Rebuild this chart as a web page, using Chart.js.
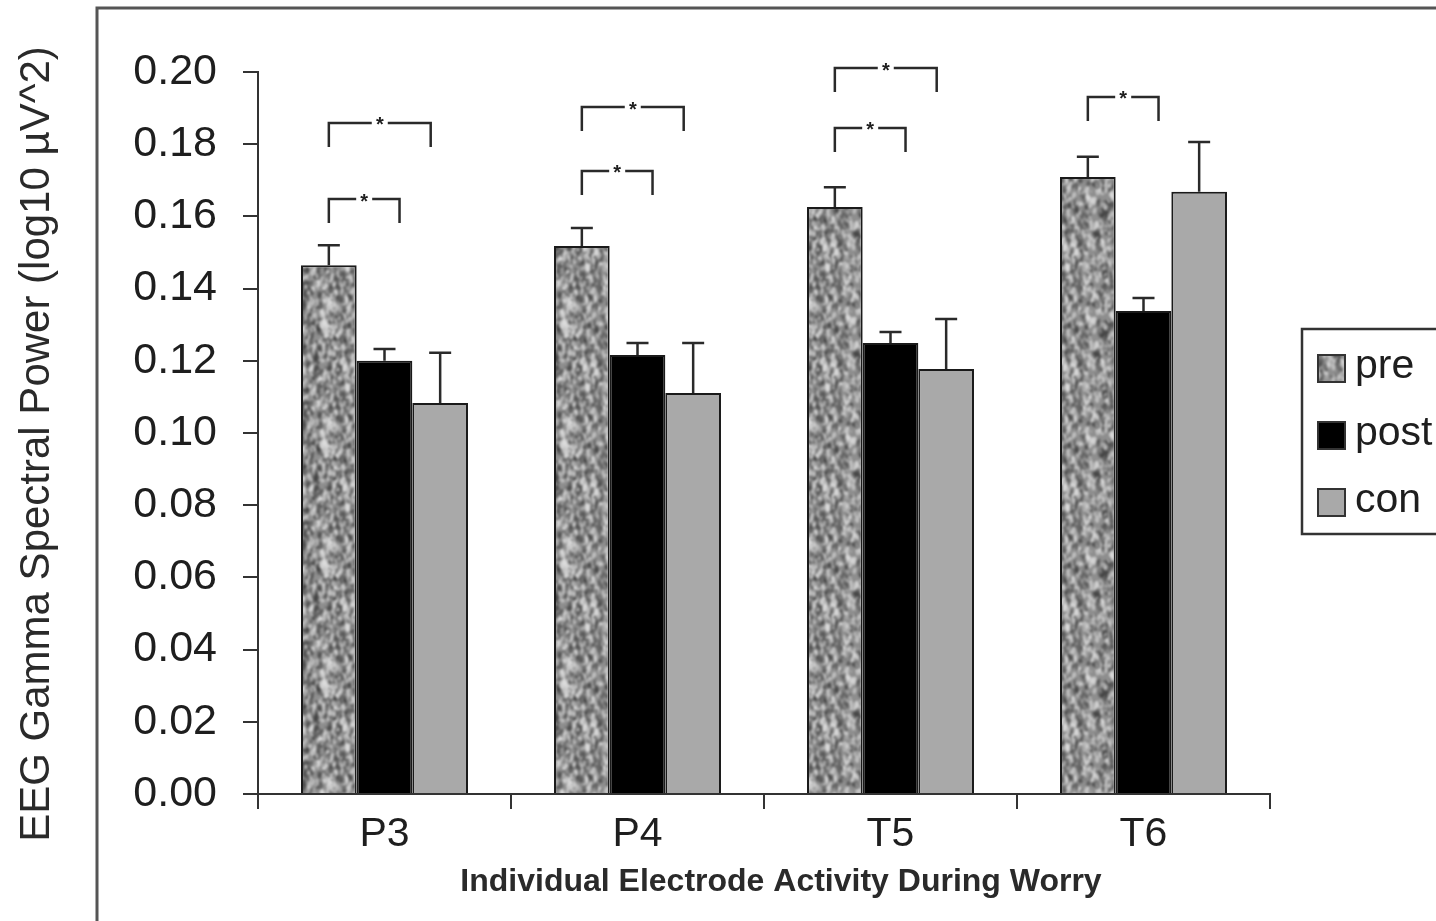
<!DOCTYPE html>
<html>
<head>
<meta charset="utf-8">
<script src="https://cdn.jsdelivr.net/npm/chart.js@4.4.0/dist/chart.umd.min.js"></script>
<style>
  html, body { margin: 0; padding: 0; background: #fff; overflow: hidden; }
  #wrap { position: relative; width: 1520px; height: 960px; }
</style>
</head>
<body>
<div id="wrap"><canvas id="gammaPower" width="1520" height="960"></canvas></div>
<script>
const electrodes = ["P3", "P4", "T5", "T6"];
const seriesNames = ["pre", "post", "con"];
const preValues  = [0.1465, 0.1518, 0.1626, 0.1709];
const postValues = [0.1200, 0.1216, 0.1249, 0.1338];
const conValues  = [0.1083, 0.1111, 0.1177, 0.1668];
const preErr  = [0.0055, 0.0050, 0.0055, 0.0056];
const postErr = [0.0033, 0.0033, 0.0031, 0.0036];
const conErr  = [0.0139, 0.0138, 0.0139, 0.0138];
const yTickValues = [0, 0.02, 0.04, 0.06, 0.08, 0.10, 0.12, 0.14, 0.16, 0.18, 0.20];
const yTickLabels = ["0.00", "0.02", "0.04", "0.06", "0.08", "0.10", "0.12", "0.14", "0.16", "0.18", "0.20"];

// significance brackets: electrode index, compared series, height of the bar
const sigElectrode = [0, 0, 1, 1, 2, 2, 3];
const sigTarget    = ["post", "con", "post", "con", "post", "con", "post"];
const sigLevel     = [0.1648, 0.1859, 0.1726, 0.1903, 0.1845, 0.2011, 0.1931];

const FONT = "'Liberation Sans', Arial, sans-serif";
const INK = "#1e1e1e";

// grey mottled fill used for the "pre" bars (tiles seamlessly)
function makeSpeckle() {
  const size = 120;
  const raw = document.createElement("canvas");
  raw.width = raw.height = size;
  const g = raw.getContext("2d");
  g.fillStyle = "#8e8e8e";
  g.fillRect(0, 0, size, size);
  let seed = 23;
  const next = () => (seed = (seed * 16807) % 2147483647) / 2147483647;
  for (let i = 0; i < 1400; i++) {
    const x = next() * size, y = next() * size, r = 0.6 + next() * 1.8;
    const rot = next() * 0.6 - 0.3;
    g.fillStyle = next() < 0.5 ? "rgba(55,55,55,0.45)" : "rgba(225,225,225,0.55)";
    for (let dx = -size; dx <= size; dx += size) {
      for (let dy = -size; dy <= size; dy += size) {
        g.beginPath();
        g.ellipse(x + dx, y + dy, r, r * 1.8, rot, 0, Math.PI * 2);
        g.fill();
      }
    }
  }
  const big = document.createElement("canvas");
  big.width = big.height = size * 3;
  const b = big.getContext("2d");
  for (let dx = 0; dx < 3; dx++) {
    for (let dy = 0; dy < 3; dy++) b.drawImage(raw, dx * size, dy * size);
  }
  const out = document.createElement("canvas");
  out.width = out.height = size;
  const o = out.getContext("2d");
  o.filter = "blur(1px)";
  o.drawImage(big, -size, -size);
  return out;
}

const canvas = document.getElementById("gammaPower");
const ctx = canvas.getContext("2d");
const speckle = ctx.createPattern(makeSpeckle(), "repeat");
const fills = [speckle, "#000000", "#a9a9a9"];
const errs = [preErr, postErr, conErr];

const framePlugin = {
  id: "frame",
  beforeDraw(chart) {
    const c = chart.ctx;
    c.save();
    c.strokeStyle = "#555";
    c.lineWidth = 3;
    c.strokeRect(97, 8, 1600, 1600);
    c.restore();
  }
};

const errorBars = {
  id: "errorBars",
  afterDatasetsDraw(chart) {
    const c = chart.ctx, y = chart.scales.y;
    c.save();
    c.strokeStyle = "#2a2a2a";
    c.lineWidth = 2.5;
    chart.data.datasets.forEach((ds, i) => {
      chart.getDatasetMeta(i).data.forEach((bar, j) => {
        const top = y.getPixelForValue(ds.data[j] + errs[i][j]);
        c.beginPath();
        c.moveTo(bar.x, bar.y);
        c.lineTo(bar.x, top);
        c.moveTo(bar.x - 11, top);
        c.lineTo(bar.x + 11, top);
        c.stroke();
      });
    });
    c.restore();
  }
};

const brackets = {
  id: "brackets",
  afterDraw(chart) {
    const c = chart.ctx, y = chart.scales.y;
    c.save();
    c.strokeStyle = "#2a2a2a";
    c.fillStyle = INK;
    c.lineWidth = 2.5;
    c.font = "bold 20px " + FONT;
    c.textAlign = "center";
    c.textBaseline = "middle";
    sigLevel.forEach((lvl, k) => {
      const j = sigElectrode[k];
      const pre = chart.getDatasetMeta(0).data[j];
      const w = pre.width;
      const x0 = pre.x;
      const x1 = sigTarget[k] === "post"
        ? chart.getDatasetMeta(1).data[j].x + 0.27 * w
        : chart.getDatasetMeta(2).data[j].x - 0.17 * w;
      const yy = y.getPixelForValue(lvl);
      const mid = (x0 + x1) / 2;
      c.beginPath();
      c.moveTo(x0, yy + 24);
      c.lineTo(x0, yy);
      c.lineTo(mid - 8, yy);
      c.moveTo(mid + 8, yy);
      c.lineTo(x1, yy);
      c.lineTo(x1, yy + 24);
      c.stroke();
      c.fillText("*", mid, yy + 3);
    });
    c.restore();
  }
};

const sideLegend = {
  id: "sideLegend",
  afterDraw(chart) {
    const c = chart.ctx;
    c.save();
    c.strokeStyle = "#333";
    c.lineWidth = 2.5;
    c.strokeRect(1302, 329, 400, 205);
    c.font = "41px " + FONT;
    c.textBaseline = "middle";
    c.textAlign = "left";
    seriesNames.forEach((name, i) => {
      const top = 355 + i * 67;
      c.fillStyle = fills[i];
      c.fillRect(1318, top, 27, 27);
      c.lineWidth = 2;
      c.strokeStyle = "#333";
      c.strokeRect(1318, top, 27, 27);
      c.fillStyle = INK;
      c.fillText(name, 1355, top + 12);
    });
    c.restore();
  }
};

const axisTitles = {
  id: "axisTitles",
  afterDraw(chart) {
    const c = chart.ctx;
    c.save();
    c.fillStyle = "#2a2a2a";
    c.textAlign = "center";
    c.textBaseline = "middle";
    c.font = "bold 32px " + FONT;
    c.fillText("Individual Electrode Activity During Worry", 781, 882);
    c.translate(37, 444);
    c.rotate(-Math.PI / 2);
    c.font = "42px " + FONT;
    c.fillText("EEG Gamma Spectral Power (log10 \u00b5V^2)", 0, 0);
    c.restore();
  }
};

new Chart(canvas, {
  type: "bar",
  data: {
    labels: electrodes,
    datasets: [preValues, postValues, conValues].map((vals, i) => ({
      label: seriesNames[i],
      data: vals,
      backgroundColor: fills[i],
      borderColor: "#1a1a1a",
      borderWidth: 2,
      categoryPercentage: 0.66,
      barPercentage: 1.0,
    })),
  },
  options: {
    responsive: false,
    animation: false,
    layout: { padding: { left: 0, top: 72, right: 250, bottom: 0 } },
    plugins: {
      legend: { display: false },
      tooltip: { enabled: false },
    },
    scales: {
      x: {
        grid: { drawOnChartArea: false, tickLength: 15, color: "#333", lineWidth: 2, offset: true },
        border: { color: "#333", width: 2 },
        ticks: { color: INK, font: { family: FONT, size: 41 }, padding: 1 },
        afterFit(scale) { scale.height = 166; },
      },
      y: {
        min: 0,
        max: 0.2,
        afterBuildTicks(scale) { scale.ticks = yTickValues.map(v => ({ value: v })); },
        grid: { drawOnChartArea: false, tickLength: 15, color: "#333", lineWidth: 2 },
        border: { color: "#333", width: 2 },
        ticks: {
          color: INK,
          font: { family: FONT, size: 43 },
          padding: 26,
          callback: (v, i) => yTickLabels[i],
        },
        afterFit(scale) { scale.width = 258; },
      },
    },
  },
  plugins: [framePlugin, errorBars, brackets, sideLegend, axisTitles],
});
</script>
</body>
</html>
